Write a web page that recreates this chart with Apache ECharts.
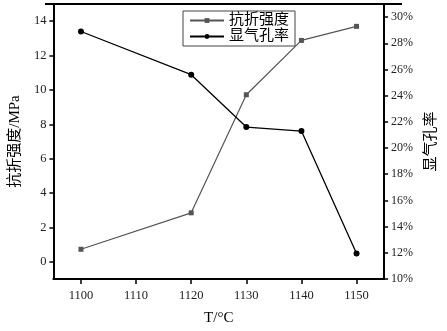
<!DOCTYPE html>
<html>
<head>
<meta charset="utf-8">
<script src="https://cdn.jsdelivr.net/npm/echarts@6/dist/echarts.min.js"></script>
<style>
html,body{margin:0;padding:0;background:#fff;}
#c{width:447px;height:331px;}
</style>
</head>
<body>
<div id="c"></div>
<script>
const temps = [1100, 1120, 1130, 1140, 1150];
const strength = [0.73, 2.85, 9.72, 12.88, 13.7];
const porosity = [28.9, 25.6, 21.6, 21.3, 11.95];
const xTicks = [1100, 1110, 1120, 1130, 1140, 1150];
const leftTicks = [0, 2, 4, 6, 8, 10, 12, 14];
const seriesNames = ['抗折强度', '显气孔率'];

const FONT = '"Liberation Serif", "Noto Sans CJK SC", serif';
const chart = echarts.init(document.getElementById('c'), null, {renderer: 'canvas'});
const axisLineStyle = {color: '#000', width: 2};
chart.setOption({
  animation: false,
  backgroundColor: '#fff',
  textStyle: {fontFamily: FONT},
  grid: {left: 46, right: 46, top: 4, bottom: 43},
  legend: {
    orient: 'vertical',
    left: 183, top: 11,
    borderColor: '#444', borderWidth: 1,
    padding: [2, 6, 2, 6],
    itemGap: 1,
    itemWidth: 34, itemHeight: 6,
    textStyle: {fontFamily: FONT, fontSize: 15, color: '#000'},
    data: seriesNames
  },
  xAxis: {
    type: 'value', min: 1095, max: 1155,
    name: 'T/°C', nameLocation: 'middle', nameGap: 32,
    nameTextStyle: {fontFamily: FONT, fontSize: 15, color: '#000'},
    axisLine: {show: true, lineStyle: axisLineStyle, onZero: false},
    axisTick: {show: true, inside: false, length: 5, lineStyle: {color: '#000', width: 1.5}, customValues: xTicks},
    axisLabel: {color: '#222', fontSize: 12.5, margin: 10, fontFamily: FONT, customValues: xTicks,
      formatter: v => String(v)},
    splitLine: {show: false}
  },
  yAxis: [{
    type: 'value', min: -1, max: 15, position: 'left',
    name: '抗折强度/MPa', nameLocation: 'middle', nameGap: 29, nameRotate: 90,
    nameTextStyle: {fontFamily: FONT, fontSize: 15, color: '#000'},
    axisLine: {show: true, lineStyle: axisLineStyle, onZero: false},
    axisTick: {show: true, inside: false, length: 4, lineStyle: {color: '#000', width: 1.5}, customValues: leftTicks},
    axisLabel: {color: '#222', fontSize: 12.5, margin: 7, fontFamily: FONT, customValues: leftTicks},
    splitLine: {show: false}
  }, {
    type: 'value', min: 10, max: 31, interval: 2, position: 'right',
    name: '显气孔率', nameLocation: 'middle', nameGap: 34, nameRotate: 90,
    nameTextStyle: {fontFamily: FONT, fontSize: 15, color: '#000'},
    axisLine: {show: true, lineStyle: axisLineStyle, onZero: false},
    axisTick: {show: true, inside: false, length: 4, lineStyle: {color: '#000', width: 1.5}},
    axisLabel: {color: '#222', fontSize: 12, margin: 7, fontFamily: FONT,
      formatter: v => (v <= 30 ? v + '%' : '')},
    splitLine: {show: false}
  }],
  series: [{
    name: seriesNames[0], type: 'line', yAxisIndex: 0,
    data: temps.map((t, i) => [t, strength[i]]),
    symbol: 'rect', symbolSize: 5,
    lineStyle: {color: '#555', width: 1.2},
    itemStyle: {color: '#555'}
  }, {
    name: seriesNames[1], type: 'line', yAxisIndex: 1,
    data: temps.map((t, i) => [t, porosity[i]]),
    symbol: 'circle', symbolSize: 6,
    lineStyle: {color: '#000', width: 1.3},
    itemStyle: {color: '#000'}
  }],
  graphic: [{
    type: 'line', z: 10,
    shape: {x1: 45, y1: 4, x2: 402, y2: 4},
    style: {stroke: '#000', lineWidth: 2}
  }]
});
</script>
</body>
</html>
